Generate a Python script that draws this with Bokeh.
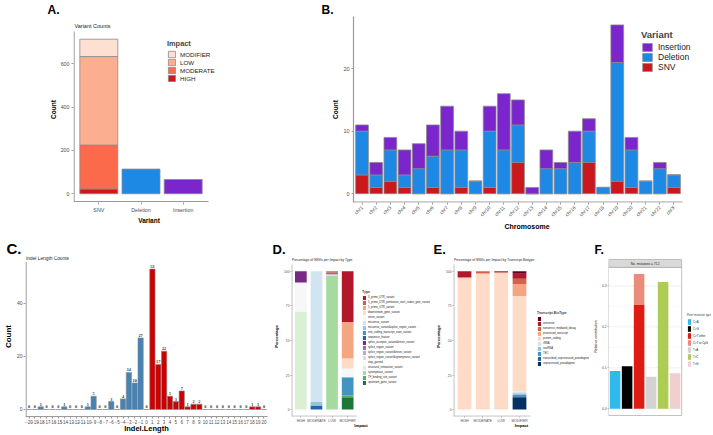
from math import pi
from bokeh.plotting import figure
from bokeh.models import (Range1d, FixedTicker, Label, Legend, LegendItem,
                          ColumnDataSource, LabelSet, NumeralTickFormatter)
from bokeh.layouts import row, column
from bokeh.embed import file_html
from bokeh.resources import INLINE

# ------------------------------------------------------------------ data
variant_types = ["SNV", "Deletion", "Insertion"]
impact_levels = ["MODIFIER", "LOW", "MODERATE", "HIGH"]
snv_impact_counts = [80, 409, 203, 22]
indel_type_counts = [114, 66]          # Deletion, Insertion

chromosomes = ["chr1", "chr2", "chr3", "chr4", "chr5", "chr6", "chr7", "chr8",
               "chr9", "chr10", "chr11", "chr12", "chr13", "chr14", "chr15",
               "chr16", "chr17", "chr18", "chr19", "chr20", "chr21", "chr22", "chrX"]
chr_snv = [3, 1, 2, 1, 0, 1, 0, 1, 0, 1, 0, 5, 0, 0, 0, 0, 5, 0, 2, 1, 0, 0, 1]
chr_deletion = [7, 2, 5, 2, 4, 5, 7, 6, 2, 9, 7, 6, 0, 4, 4, 5, 5, 1, 19, 6, 2, 4, 2]
chr_insertion = [1, 2, 2, 4, 4, 5, 7, 3, 0, 4, 9, 4, 1, 3, 1, 5, 2, 0, 6, 2, 0, 1, 0]

indel_lengths = [-20, -19, -18, -17, -16, -15, -14, -13, -12, -11, -10, -9, -8, -7,
                 -6, -5, -4, -3, -2, -1, 0, 1, 2, 3, 4, 5, 6, 7, 8, 9, 10, 11, 12,
                 13, 14, 15, 16, 17, 18, 19, 20]
indel_length_counts = [0, 0, 1, 0, 0, 0, 1, 0, 0, 0, 1, 5, 0, 0, 3, 0, 4, 14, 10, 27,
                       0, 53, 17, 22, 5, 3, 7, 1, 2, 2, 0, 0, 0, 0, 0, 0, 0, 0, 1, 1, 0]

impact_categories = ["HIGH", "MODERATE", "LOW", "MODIFIER"]
snv_types = ["3_prime_UTR_variant", "5_prime_UTR_premature_start_codon_gain_variant",
             "5_prime_UTR_variant", "downstream_gene_variant", "intron_variant",
             "missense_variant", "missense_variant&splice_region_variant",
             "non_coding_transcript_exon_variant", "sequence_feature",
             "splice_acceptor_variant&intron_variant", "splice_region_variant",
             "splice_region_variant&intron_variant",
             "splice_region_variant&synonymous_variant", "stop_gained",
             "structural_interaction_variant", "synonymous_variant",
             "TF_binding_site_variant", "upstream_gene_variant"]
type_pct_high = [0, 0, 0, 0, 0, 0, 0, 0, 0, 8, 0, 0, 0, 21, 71, 0, 0, 0]
type_pct_moderate = [0, 0, 0, 0, 0, 94.5, 2.5, 0, 3.0, 0, 0, 0, 0, 0, 0, 0, 0, 0]
type_pct_low = [0, 1.0, 0, 0, 0, 0, 0, 0, 0.8, 0, 0, 0.7, 0.5, 0, 0, 97.0, 0, 0]
type_pct_modifier = [36.6, 0, 26.4, 7.2, 6.4, 0, 0, 13.2, 0, 0, 0, 0, 0, 0, 0, 0, 1.2, 9.0]

biotypes = [" ", "antisense", "nonsense_mediated_decay", "processed_transcript",
            "protein_coding", "rRNA", "snoRNA", "TEC",
            "transcribed_unprocessed_pseudogene", "unprocessed_pseudogene"]
biotype_pct_high = [0, 4.5, 0, 0, 95.5, 0, 0, 0, 0, 0]
biotype_pct_moderate = [0, 0, 1.5, 0, 98.5, 0, 0, 0, 0, 0]
biotype_pct_low = [0, 0.8, 0, 0, 99.2, 0, 0, 0, 0, 0]
biotype_pct_modifier = [1.7, 3.6, 4.0, 8.6, 69.1, 1.2, 1.2, 1.0, 1.3, 8.3]

spectrum_bars = ["C>A", "C>G", "C>T", "T>A", "T>C", "T>G"]
mutation_types = ["C>A", "C>G", "C>T other", "C>T at CpG", "T>A", "T>C", "T>G"]
mutation_bar = ["C>A", "C>G", "C>T", "C>T", "T>A", "T>C", "T>G"]
mutation_contribution = [0.092, 0.104, 0.255, 0.074, 0.078, 0.310, 0.087]
contribution_ticks = [0, 0.1, 0.2, 0.3]
contribution_minor = [0.05, 0.15, 0.25]
n_mutations = 712

# ------------------------------------------------------------------ style
FONT = "Liberation Sans"
AXIS_GREY = "#9A9A9A"
THIN_GREY = "#7F7F7F"
TICK_TXT = "#4D4D4D"
BAR_LINE = "#8A8A8A"
impact_colors = ["#FEE0D2", "#FCAE91", "#FB6A4A", "#CB181D"]
DEL_COLOR = "#1E88E5"
INS_COLOR = "#7B26CC"
SNV_COLOR = "#CB181D"
NEG_COLOR = "#4682B4"
POS_COLOR = "#CC0000"
type_colors = ["#B2182B", "#D6604D", "#F4A582", "#FDDBC7", "#F7F7F7", "#D1E5F0",
               "#92C5DE", "#4393C3", "#2166AC", "#762A83", "#9970AB", "#C2A5CF",
               "#E7D4E8", "#F7F7F7", "#D9F0D3", "#A6DBA0", "#5AAE61", "#1B7837"]
biotype_colors = ["#67001F", "#B2182B", "#D6604D", "#F4A582", "#FDDBC7",
                  "#D1E5F0", "#92C5DE", "#4393C3", "#2166AC", "#053061"]
mutation_colors = ["#2EBAED", "#000000", "#DE1C14", "#E98C7B", "#D4D2D2",
                   "#ADCC54", "#F0D0CE"]


class Panel:
    """A figure whose frame sits at given page pixels; xa/ya anchor data to pixels."""

    def __init__(self, origin, size, frame, xa, ya, x_axis=True):
        self.xa, self.ya, self.frame = xa, ya, frame
        ox, oy = origin
        w, h = size
        fx0, fx1, fy0, fy1 = frame
        kw = {} if x_axis else {"x_axis_location": None}
        self.p = figure(width=w, height=h,
                        x_range=Range1d(self.X(fx0), self.X(fx1)),
                        y_range=Range1d(self.Y(fy1), self.Y(fy0)),
                        output_backend="svg", toolbar_location=None,
                        min_border_left=int(round(fx0 - ox)),
                        min_border_right=int(round(ox + w - fx1)),
                        min_border_top=int(round(fy0 - oy)),
                        min_border_bottom=int(round(oy + h - fy1)), **kw)
        p = self.p
        p.xgrid.grid_line_color = None
        p.ygrid.grid_line_color = None
        p.outline_line_color = None
        p.background_fill_color = "white"
        p.border_fill_color = "white"

    def X(self, px):
        d0, p0, d1, p1 = self.xa
        return d0 + (px - p0) * (d1 - d0) / (p1 - p0)

    def Y(self, py):
        d0, p0, d1, p1 = self.ya
        return d0 + (py - p0) * (d1 - d0) / (p1 - p0)

    def text(self, px, py, s, size, bold=False, align="left", angle=0, color="#222222"):
        self.p.add_layout(Label(x=self.X(px), y=self.Y(py), text=s, text_font=FONT,
                                text_font_size=f"{size}px",
                                text_font_style="bold" if bold else "normal",
                                text_align=align, text_baseline="middle", angle=angle,
                                text_color=color))

    def letter(self, s, left, size):
        t = self.p.title
        t.text = s
        t.align = "left"
        t.offset = left - self.frame[0]
        t.text_font = FONT
        t.text_font_size = f"{size}px"
        t.text_font_style = "bold"
        t.text_color = "black"
        t.standoff = 0

    def hline(self, x0, x1, y, color, width):
        self.p.segment(x0=[x0], x1=[x1], y0=[y], y1=[y], line_color=color, line_width=width)

    def vline(self, x, y0, y1, color, width):
        self.p.segment(x0=[x], x1=[x], y0=[y0], y1=[y1], line_color=color, line_width=width)


def style_axis(ax, tick_size, label_size, color=AXIS_GREY, lw=1.0, standoff=2,
               label_standoff=2, tick_out=2, line=True):
    ax.axis_line_color = color if line else None
    ax.axis_line_width = lw
    ax.major_tick_line_color = color
    ax.major_tick_line_width = lw
    ax.major_tick_out = tick_out
    ax.major_tick_in = 0
    ax.minor_tick_line_color = None
    ax.major_label_text_font = FONT
    ax.major_label_text_font_size = f"{tick_size}px"
    ax.major_label_text_color = TICK_TXT
    ax.major_label_standoff = standoff
    ax.axis_label_text_font = FONT
    ax.axis_label_text_font_size = f"{label_size}px"
    ax.axis_label_text_font_style = "bold"
    ax.axis_label_text_color = "black"
    ax.axis_label_standoff = label_standoff


def make_legend(items, loc, title, gw, gh, lsize, tsize, standoff=3, tstand=2,
                tbold=True):
    return Legend(items=items, location=loc, title=title, glyph_width=gw,
                  glyph_height=gh, label_height=gh, label_width=4, spacing=0,
                  padding=0, margin=0, label_standoff=standoff,
                  title_standoff=tstand, label_text_font=FONT,
                  label_text_font_size=f"{lsize}px", label_text_color="#1A1A1A",
                  title_text_font=FONT, title_text_font_size=f"{tsize}px",
                  title_text_font_style="bold" if tbold else "normal",
                  border_line_color=None, background_fill_alpha=0)


# ================================================================= A
snv_total = sum(snv_impact_counts)
a_lo, a_hi = -0.05 * snv_total, 1.05 * snv_total
A = Panel((0, 0), (230, 232), (73, 224, 16, 202), (0.4, 73, 3.6, 208), (a_lo, 201, a_hi, 31))
pA = A.p
base = 0
rA = {}
for i in reversed(range(len(impact_levels))):
    rA[impact_levels[i]] = pA.vbar(x=[1], bottom=[base], top=[base + snv_impact_counts[i]],
                                   width=0.9, fill_color=impact_colors[i],
                                   line_color=BAR_LINE, line_width=0.8)
    base += snv_impact_counts[i]
pA.vbar(x=[2, 3], bottom=0, top=indel_type_counts, width=0.9,
        fill_color=[DEL_COLOR, INS_COLOR], line_color=BAR_LINE, line_width=0.8)
A.hline(0.4, 3.6, a_lo, AXIS_GREY, 1.2)
A.vline(A.X(73.6), a_lo, a_hi, AXIS_GREY, 1.2)
pA.xaxis.ticker = FixedTicker(ticks=[1, 2, 3])
pA.xaxis.major_label_overrides = {i + 1: v for i, v in enumerate(variant_types)}
pA.xaxis.axis_label = "Variant"
pA.yaxis.ticker = FixedTicker(ticks=[0, 200, 400, 600])
pA.yaxis.axis_label = "Count"
style_axis(pA.xaxis[0], 5.3, 6.5, label_standoff=1, line=False)
style_axis(pA.yaxis[0], 5.3, 6.5, label_standoff=1, line=False)
A.letter("A.", 47, 12)
A.text(74, 25, "Variant Counts", 5.5)
pA.add_layout(make_legend([LegendItem(label=l, renderers=[rA[l]]) for l in impact_levels],
                          (167 - 73, 202 - 82), "Impact", 9, 8, 6.2, 7.4, standoff=4))

# ================================================================= B
xs_chr = list(range(1, len(chromosomes) + 1))
nb = len(chromosomes)
tot_chr = [a + b + c for a, b, c in zip(chr_snv, chr_deletion, chr_insertion)]
b_lo, b_hi = -0.05 * max(tot_chr), 1.05 * max(tot_chr)
B = Panel((230, 0), (483, 232), (353, 700, 16, 202), (0.4, 353, nb + 0.6, 682),
          (b_lo, 201.6, b_hi, 16))
pB = B.p
srcB = ColumnDataSource(dict(x=xs_chr, SNV=chr_snv, Deletion=chr_deletion,
                             Insertion=chr_insertion))
rB = pB.vbar_stack(["SNV", "Deletion", "Insertion"], x="x", width=0.9, source=srcB,
                   fill_color=[SNV_COLOR, DEL_COLOR, INS_COLOR], line_color=BAR_LINE,
                   line_width=0.8)
B.hline(0.4, nb + 0.6, b_lo, AXIS_GREY, 1.2)
pB.xaxis.ticker = FixedTicker(ticks=xs_chr)
pB.xaxis.major_label_overrides = {i + 1: v for i, v in enumerate(chromosomes)}
pB.xaxis.major_label_orientation = pi / 4
pB.xaxis.axis_label = "Chromosome"
pB.yaxis.ticker = FixedTicker(ticks=[0, 10, 20])
pB.yaxis.axis_label = "Count"
style_axis(pB.xaxis[0], 5, 7, label_standoff=0, line=False)
style_axis(pB.yaxis[0], 5.5, 6.5, label_standoff=1, lw=1.2)
B.letter("B.", 321, 12)
pB.add_layout(make_legend([LegendItem(label="Insertion", renderers=[rB[2]]),
                           LegendItem(label="Deletion", renderers=[rB[1]]),
                           LegendItem(label="SNV", renderers=[rB[0]])],
                          (641 - 353, 202 - 72), "Variant", 12, 10, 8.5, 9.5,
                          standoff=5))

# ================================================================= C
cmax = max(indel_length_counts)
c_lo, c_hi = -0.05 * cmax, 1.05 * cmax
C = Panel((0, 232), (270, 203), (22, 267, 256, 418), (-20.6, 22, 20.6, 267),
          (c_lo, 418, c_hi, 261.6))
pC = C.p
srcC = ColumnDataSource(dict(x=indel_lengths, top=indel_length_counts,
                             lab=[str(v) for v in indel_length_counts],
                             col=[NEG_COLOR if v < 0 else POS_COLOR for v in indel_lengths]))
pC.vbar(x="x", top="top", bottom=0, width=0.9, source=srcC, fill_color="col",
        line_color=BAR_LINE, line_width=0.6)
pC.add_layout(LabelSet(x="x", y="top", text="lab", source=srcC, y_offset=1,
                       text_font=FONT, text_font_size="4.3px", text_font_style="bold",
                       text_align="center", text_baseline="bottom", text_color="#333333"))
C.vline(C.X(22.6), c_lo, c_hi, AXIS_GREY, 1.2)
pC.xaxis.ticker = FixedTicker(ticks=indel_lengths)
pC.xaxis.axis_label = "Indel.Length"
pC.yaxis.ticker = FixedTicker(ticks=[0, 20, 40])
pC.yaxis.axis_label = "Count"
style_axis(pC.xaxis[0], 4.5, 7.5, standoff=1, label_standoff=-3, lw=1.2)
style_axis(pC.yaxis[0], 5, 8, standoff=1, label_standoff=1, line=False)
C.letter("C.", 3, 15)
C.text(22.5, 258.5, "Indel Length Counts", 4.8)

# ================================================================= D and E


def pct_panel(origin, size, frame, axis_right, cats, pcts, colors, letter, letter_left,
              subtitle, legend_title, legend_px, gh, tsize):
    fx0 = frame[0]
    P = Panel(origin, size, frame, (0.4, fx0, 4.6, axis_right), (-5, 418, 105, 264))
    p = P.p
    keys = [f"k{i}" for i in range(len(cats))]
    src = ColumnDataSource(dict(x=[1, 2, 3, 4],
                                **{k: list(v) for k, v in zip(keys, zip(*pcts))}))
    rs = p.vbar_stack(list(reversed(keys)), x="x", width=0.75, source=src,
                      fill_color=list(reversed(colors)), line_color=None)
    rs = list(reversed(rs))
    P.hline(0.4, 4.6, P.Y(417.7), THIN_GREY, 0.7)
    P.vline(P.X(fx0 + 0.4), -5, 105, THIN_GREY, 0.7)
    p.xaxis.ticker = FixedTicker(ticks=[1, 2, 3, 4])
    p.xaxis.major_label_overrides = {i + 1: v for i, v in enumerate(impact_categories)}
    p.xaxis.axis_label = "Impact"
    p.yaxis.ticker = FixedTicker(ticks=[0, 25, 50, 75, 100])
    p.yaxis.axis_label = "Percentage"
    style_axis(p.xaxis[0], 3.3, 4.2, color=THIN_GREY, lw=0.7, standoff=1,
               label_standoff=-2, tick_out=1, line=False)
    style_axis(p.yaxis[0], 3.3, 4.2, color=THIN_GREY, lw=0.7, standoff=1,
               label_standoff=2, tick_out=1, line=False)
    P.letter(letter, letter_left, 13)
    P.text(fx0 + 0.5, 260, subtitle, 3.4)
    lx, lb = legend_px
    p.add_layout(make_legend([LegendItem(label=t, renderers=[r]) for t, r in zip(cats, rs)],
                             (lx - fx0, frame[3] - lb), legend_title, 4, gh, 2.7, tsize,
                             standoff=2, tstand=1))
    return P


D = pct_panel((270, 232), (162, 203), (290, 430, 256, 418), 356, snv_types,
              [type_pct_high, type_pct_moderate, type_pct_low, type_pct_modifier],
              type_colors, "D.", 271, "Percentage of SNVs per Impact by Type", "Type",
              (361, 387), 5, 3.6)
E = pct_panel((432, 232), (158, 203), (453, 589, 256, 418), 530, biotypes,
              [biotype_pct_high, biotype_pct_moderate, biotype_pct_low, biotype_pct_modifier],
              biotype_colors, "E.", 433,
              "Percentage of SNVs per Impact by Transcript Biotype", "Transcript.BioType",
              (537, 368), 5, 3.3)

# ================================================================= F
nbar = len(spectrum_bars)
fmax = max(sum(v for v, b in zip(mutation_contribution, mutation_bar) if b == s)
           for s in spectrum_bars)
f_lo, f_hi = -0.05 * fmax, 1.05 * fmax
F = Panel((590, 232), (123, 203), (604, 712, 256, 418), (0.45, 604, nbar + 0.55, 680),
          (f_lo, 417, f_hi, 267), x_axis=False)
pF = F.p
for g in contribution_minor:
    F.hline(0.45, nbar + 0.55, g, "#F2F2F2", 0.4)
for g in contribution_ticks:
    F.hline(0.45, nbar + 0.55, g, "#E6E6E6", 0.6)
rF = []
acc = {}
for t, b, v, c in zip(mutation_types, mutation_bar, mutation_contribution, mutation_colors):
    xb = spectrum_bars.index(b) + 1
    b0 = acc.get(b, 0)
    rF.append(pF.vbar(x=[xb], bottom=[b0], top=[b0 + v], width=0.88, fill_color=c,
                      line_color=None))
    acc[b] = b0 + v
strip_top = F.Y(259)
pF.quad(left=[0.45], right=[nbar + 0.55], bottom=[f_lo], top=[f_hi],
        fill_color=None, line_color="#A8A8A8", line_width=0.7)
pF.quad(left=[0.45], right=[nbar + 0.55], bottom=[f_hi], top=[strip_top],
        fill_color="#D9D9D9", line_color="#A8A8A8", line_width=0.7)
pF.add_layout(Label(x=(nbar + 1) / 2, y=(f_hi + strip_top) / 2,
                    text=f"No. mutations = {n_mutations}", text_font=FONT,
                    text_font_size="3.2px", text_align="center", text_baseline="middle",
                    text_color="#222222"))
pF.yaxis.ticker = FixedTicker(ticks=contribution_ticks)
pF.yaxis.formatter = NumeralTickFormatter(format="0.0")
pF.yaxis.axis_label = "Relative contribution"
style_axis(pF.yaxis[0], 3.3, 3.6, color=THIN_GREY, lw=0.6, standoff=1, tick_out=1,
           label_standoff=1, line=False)
pF.yaxis.axis_label_text_font_style = "normal"
F.letter("F.", 590, 12)
pF.add_layout(make_legend([LegendItem(label=t, renderers=[r]) for t, r in zip(mutation_types, rF)],
                          (683 - 604, 418 - 369), "Point mutation type", 4, 7, 2.8, 2.8,
                          standoff=2, tstand=1, tbold=False))

layout = column(row(pA, pB), row(pC, D.p, E.p, pF))
open("out.html", "w").write(file_html(layout, INLINE))
